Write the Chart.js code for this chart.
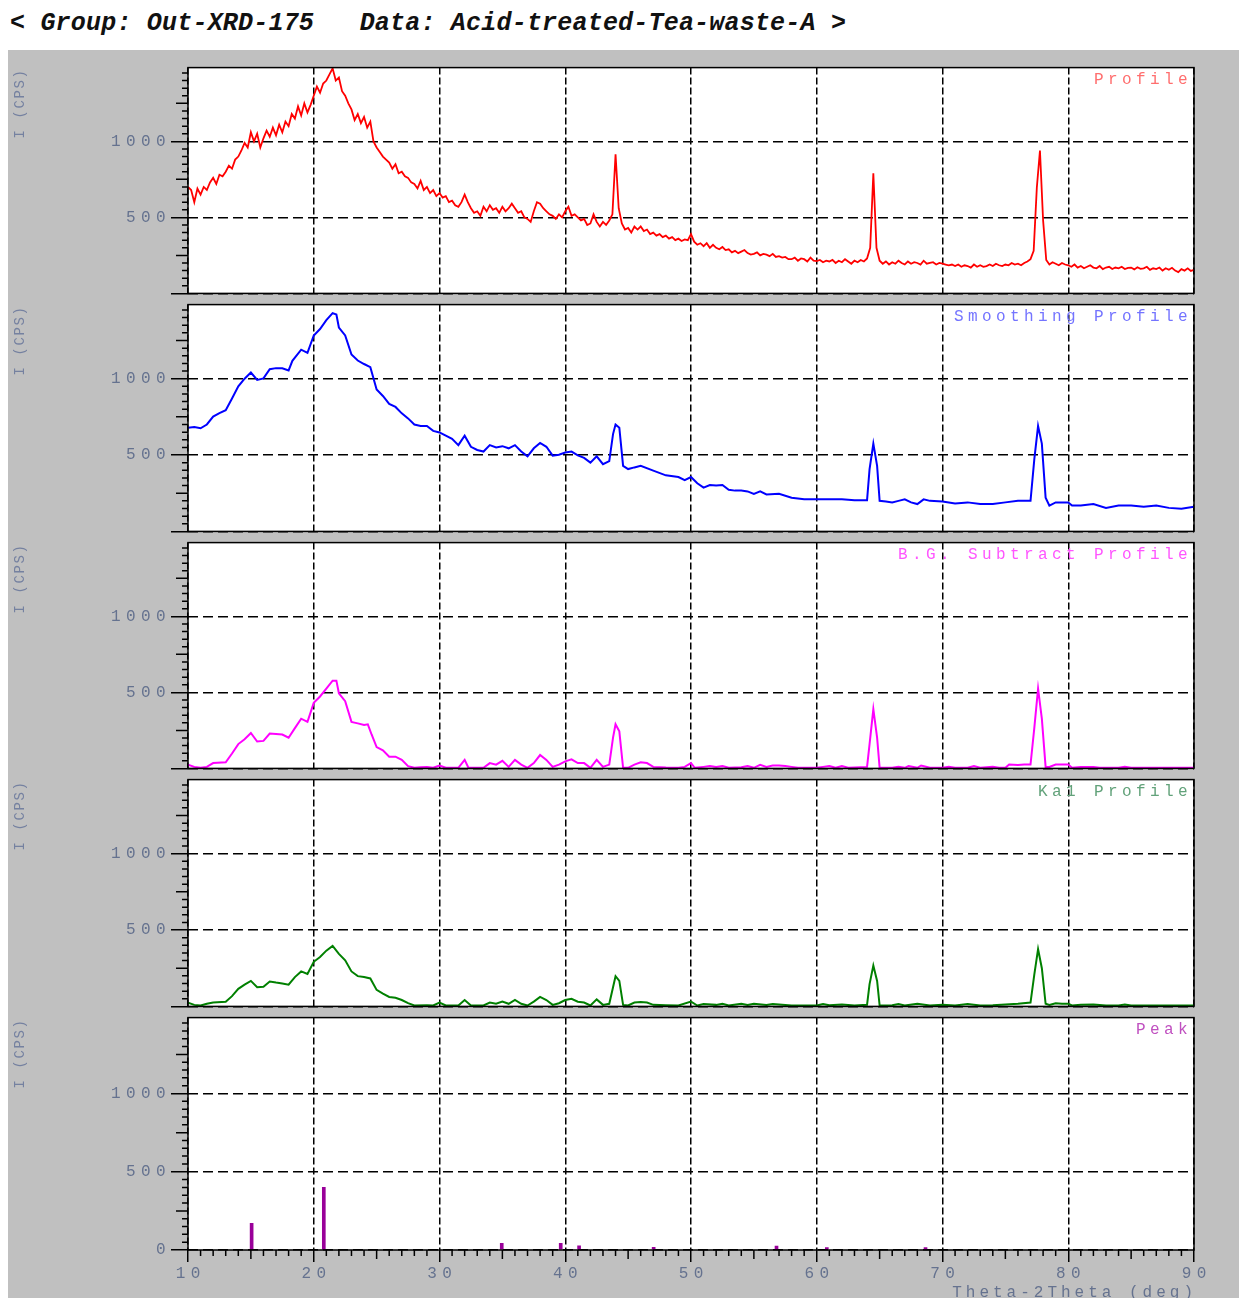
<!DOCTYPE html>
<html>
<head>
<meta charset="utf-8">
<script src="https://cdn.jsdelivr.net/npm/chart.js@4.4.1/dist/chart.umd.min.js"></script>
<style>
  body { margin: 0; background: #fff; width: 1239px; height: 1298px; overflow: hidden; position: relative; }
  #head { position: absolute; left: 10px; top: 11px; font: italic bold 25px "Liberation Mono", monospace; letter-spacing: 0.2px; line-height: 25px; color: #111; white-space: pre; }
  #back { position: absolute; left: 8px; top: 50px; width: 1231px; height: 1248px; background: #c0c0c0; }
  canvas { position: absolute; left: 0; }
</style>
</head>
<body>
<div id="head">&lt; Group: Out-XRD-175   Data: Acid-treated-Tea-waste-A &gt;</div>
<div id="back"></div>
<script>
// ---- data ----
const xTicks = [10, 20, 30, 40, 50, 60, 70, 80, 90];
const yTicks = [0, 500, 1000];
const panelLabels = ["Profile", "Smoothing Profile", "B.G. Subtract Profile", "Ka1 Profile", "Peak"];

// raw profile, scan 10-90 deg at 0.25 deg
const rawStart = 10;
const rawStep = 0.25;
const rawI = [
  700, 680, 600, 690,  650, 700, 680, 730,  760, 720, 780, 770,  800, 840, 820, 880,  900, 940, 990, 960,
  1060, 1000, 1050, 960,  1020, 1070, 1030, 1090,  1040, 1110, 1060, 1130,  1100, 1180, 1150, 1230,  1170, 1250, 1190, 1240,
  1300, 1360, 1320, 1380,  1400, 1440, 1480, 1400,  1420, 1330, 1300, 1250,  1210, 1140, 1180, 1120,  1160, 1090, 1130, 1000,
  960, 930, 900, 880,  860, 820, 850, 790,  800, 770, 760, 730,  720, 690, 740, 680,  700, 660, 680, 640,
  660, 630, 640, 600,  610, 580, 570, 600,  650, 600, 560, 530,  540, 510, 570, 540,  580, 550, 560, 530,
  570, 540, 560, 590,  560, 530, 540, 500,  490, 470, 540, 600,  590, 560, 540, 520,  510, 490, 520, 500,
  540, 570, 510, 520,  500, 480, 490, 450,  460, 520, 470, 440,  470, 450, 480, 520,  915, 560, 460, 420,
  430, 400, 440, 420,  440, 410, 420, 390,  400, 380, 390, 370,  380, 360, 370, 350,  360, 345, 355, 350,
  390, 340, 320, 330,  310, 330, 300, 320,  300, 290, 305, 285,  290, 270, 280, 265,  275, 285, 265, 255,
  260, 270, 250, 260,  255, 245, 260, 240,  245, 235, 240, 225,  225, 235, 215, 230,  225, 210, 235, 215,
  212, 220, 205, 215,  210, 220, 200, 215,  205, 225, 210, 195,  215, 205, 220, 210,  230, 300, 790, 300,
  215, 195, 210, 190,  205, 195, 215, 200,  190, 210, 195, 205,  200, 190, 215, 195,  200, 205, 190, 200,
  195, 190, 185, 190,  180, 190, 175, 185,  180, 170, 190, 175,  185, 175, 180, 190,  180, 195, 185, 180,
  190, 185, 200, 190,  195, 185, 200, 210,  225, 280, 694, 940,  480, 220, 190, 205,  195, 185, 200, 190,
  185, 175, 190, 170,  180, 165, 175, 185,  170, 165, 180, 160,  170, 175, 160, 170,  165, 175, 160, 168,
  170, 158, 172, 162,  165, 175, 155, 165,  160, 170, 150, 165,  155, 168, 150, 140,  160, 150, 165, 148,
  155
];

const smoothAngle = [
  10, 10.5, 11, 11.5, 12, 12.5, 13, 13.5, 14, 14.5,
  15, 15.5, 16, 16.5, 17, 17.5, 18, 18.3, 19, 19.5,
  20, 20.5, 21, 21.5, 21.8, 22, 22.5, 23, 23.5, 24,
  24.5, 25, 25.5, 26, 26.5, 27, 27.5, 28, 28.5, 29,
  29.5, 30, 30.5, 31, 31.5, 32, 32.5, 33, 33.5, 34,
  34.5, 35, 35.5, 36, 36.5, 37, 37.5, 38, 38.5, 39,
  39.5, 40, 40.5, 41, 41.5, 42, 42.5, 43, 43.5, 43.8,
  44, 44.3, 44.6, 45, 45.5, 46, 47, 48, 49, 49.5,
  50, 50.5, 51, 51.5, 52, 52.5, 53, 53.5, 54, 54.5,
  55, 55.5, 56, 57, 58, 59, 60, 61, 62, 63,
  64, 64.2, 64.5, 64.8, 65, 65.5, 66, 66.5, 67, 67.5,
  68, 68.5, 69, 70, 71, 72, 73, 74, 75, 76,
  77, 77.3, 77.6, 77.9, 78.2, 78.5, 79, 80, 80.3, 81,
  82, 83, 84, 85, 86, 87, 88, 89, 90
];
const smoothI = [
  679, 683, 675, 700, 752, 775, 794, 870, 950, 1000,
  1040, 992, 1002, 1062, 1069, 1068, 1054, 1117, 1190, 1169,
  1283, 1325, 1383, 1429, 1420, 1335, 1283, 1158, 1119, 1096,
  1075, 929, 887, 835, 815, 773, 740, 700, 690, 690,
  658, 648, 627, 606, 565, 627, 554, 533, 523, 565,
  550, 558, 544, 565, 523, 492, 544, 579, 554, 496,
  502, 517, 523, 498, 481, 450, 492, 440, 460, 637,
  700, 679, 429, 408, 419, 429, 398, 367, 356, 335,
  356, 315, 287, 304, 300, 304, 273, 267, 267, 262,
  246, 262, 242, 246, 221, 210, 210, 210, 210, 204,
  204, 408, 575, 429, 200, 196, 190, 200, 210, 190,
  179, 210, 200, 196, 183, 190, 179, 179, 190, 200,
  200, 471, 690, 575, 221, 169, 190, 190, 169, 169,
  179, 154, 169, 169, 162, 169, 154, 148, 162
];

const bgAngle = [
  10, 10.5, 11, 11.5, 12, 13, 13.5, 14, 14.5, 15,
  15.5, 16, 16.5, 17, 17.5, 18, 18.5, 19, 19.5, 20,
  20.5, 21, 21.5, 21.8, 22, 22.5, 23, 23.5, 24, 24.3,
  24.6, 25, 25.5, 26, 26.5, 27, 27.5, 28, 28.5, 29,
  29.5, 30, 30.5, 31.5, 32, 32.3, 33.5, 34, 34.5, 35,
  35.5, 36, 36.5, 37, 37.5, 38, 38.5, 39, 39.5, 40,
  40.5, 41, 41.5, 42, 42.5, 43, 43.5, 43.8, 44, 44.3,
  44.6, 45, 45.5, 46, 46.5, 47, 48, 49, 49.5, 50,
  50.3, 51, 51.5, 52, 52.5, 53, 54, 54.5, 55, 55.5,
  56, 56.5, 57, 57.5, 58, 58.5, 60, 60.5, 61, 61.5,
  62, 62.5, 64, 64.2, 64.5, 64.8, 65, 66, 66.5, 67,
  67.3, 68, 68.3, 69, 70, 70.5, 71, 72, 72.5, 73,
  74, 74.5, 75, 75.3, 76, 76.5, 77, 77.3, 77.6, 77.9,
  78.2, 78.5, 79, 79.5, 80, 80.3, 81, 81.5, 82, 82.5,
  84, 84.5, 85, 90
];
const bgI = [
  25, 10, 4, 10, 35, 40, 98, 160, 192, 233,
  177, 181, 229, 227, 223, 202, 265, 327, 306, 431,
  473, 525, 577, 577, 494, 442, 306, 296, 285, 290,
  223, 140, 119, 77, 77, 56, 15, 4, 8, 10,
  4, 19, 4, 4, 56, 4, 4, 35, 25, 50,
  10, 56, 25, 4, 35, 88, 56, 10, 25, 46,
  60, 35, 35, 4, 56, 10, 25, 202, 290, 244,
  4, 4, 25, 40, 35, 10, 6, 4, 10, 35,
  4, 10, 15, 10, 15, 4, 8, 15, 4, 23,
  10, 19, 19, 15, 10, 4, 4, 10, 15, 4,
  15, 4, 10, 160, 390, 202, 4, 4, 10, 4,
  15, 4, 19, 4, 4, 10, 4, 4, 15, 4,
  10, 4, 4, 25, 23, 25, 25, 265, 525, 327,
  10, 10, 25, 25, 25, 4, 10, 10, 10, 4,
  4, 10, 4, 4
];

const kaAngle = [
  10, 10.5, 11, 11.5, 12, 13, 13.5, 14, 14.5, 15,
  15.5, 16, 16.5, 17, 17.5, 18, 18.5, 19, 19.5, 20,
  20.5, 21, 21.5, 22, 22.5, 23, 23.5, 24, 24.5, 25,
  25.5, 26, 26.5, 27, 27.5, 28, 29, 29.5, 30, 30.5,
  31.5, 32, 32.5, 33.5, 34, 34.5, 35, 35.5, 36, 36.5,
  37, 37.5, 38, 38.5, 39, 39.5, 40, 40.5, 41, 41.5,
  42, 42.5, 43, 43.5, 43.8, 44, 44.3, 44.6, 45, 45.5,
  46, 46.5, 47, 48, 49, 50, 50.5, 51, 52, 52.5,
  53, 54, 54.5, 55, 56, 56.5, 57, 58, 60, 60.5,
  61, 62, 63, 64, 64.2, 64.5, 64.8, 65, 66, 66.5,
  67, 68, 69, 70, 71, 72, 73, 74, 75, 76,
  77, 77.3, 77.6, 77.9, 78.2, 78.5, 79, 79.5, 80, 80.3,
  81, 82, 83, 84, 84.5, 85, 90
];
const kaI = [
  25, 10, 6, 17, 25, 31, 67, 115, 142, 167,
  125, 129, 163, 156, 150, 142, 192, 229, 213, 292,
  323, 365, 396, 344, 302, 229, 198, 192, 183, 108,
  83, 62, 56, 42, 21, 6, 8, 6, 25, 6,
  6, 42, 6, 6, 25, 17, 31, 17, 42, 17,
  6, 31, 62, 42, 10, 21, 42, 50, 31, 25,
  6, 46, 10, 17, 125, 198, 167, 10, 6, 25,
  29, 25, 10, 8, 6, 31, 6, 15, 10, 17,
  6, 17, 10, 17, 10, 15, 12, 6, 6, 15,
  8, 12, 6, 10, 146, 267, 167, 6, 8, 15,
  6, 17, 6, 10, 6, 15, 6, 8, 12, 17,
  25, 208, 375, 250, 17, 10, 21, 17, 17, 6,
  10, 12, 6, 6, 12, 6, 6
];

const peakAngle = [15.06, 20.8, 34.95, 39.64, 41.1, 47.03, 56.8, 60.8, 68.65];
const peakI = [171, 400, 42, 42, 27, 17, 25, 15, 15];

// ---- layout ----
const panelTop = [62, 299, 537, 774, 1012];
const panelBottom = [299, 537, 774, 1012, 1250];
const textColor = "#65728f";
const monoFont = "Liberation Mono";

const pts = (xs, ys) => xs.map((x, i) => ({ x: x, y: ys[i] }));
const rawPts = rawI.map((y, i) => ({ x: rawStart + i * rawStep, y: y }));

// frame, minor ticks and labels of one panel
const xrdPanel = {
  id: "xrdPanel",
  beforeDraw(chart) {
    const { ctx, chartArea: a } = chart;
    ctx.save();
    ctx.fillStyle = "#fff";
    ctx.fillRect(a.left, a.top, a.right - a.left, a.bottom - a.top);
    ctx.restore();
    ctx.letterSpacing = "5.4px"; // wide tick labels
  },
  afterDraw(chart, args, o) {
    const { ctx, chartArea: a, scales } = chart;
    const x = scales.x, y = scales.y;
    ctx.save();
    ctx.strokeStyle = "#000";
    ctx.lineWidth = 1.5;
    ctx.beginPath();
    for (let v = 50; v < y.max; v += 50) {
      if (v % 500 === 0) continue;
      const len = v % 250 === 0 ? 12 : 6;
      const py = y.getPixelForValue(v);
      ctx.moveTo(a.left - len, py);
      ctx.lineTo(a.left, py);
    }
    if (o.last) {
      for (let v = 11; v < 90; v++) {
        if (v % 10 === 0) continue;
        const len = v % 5 === 0 ? 9 : 6;
        const px = x.getPixelForValue(v);
        ctx.moveTo(px, a.bottom);
        ctx.lineTo(px, a.bottom + len);
      }
    }
    ctx.stroke();
    ctx.strokeRect(a.left, a.top, a.right - a.left, a.bottom - a.top);

    // panel title, top right
    ctx.letterSpacing = "4.4px";
    ctx.font = "16px '" + monoFont + "'";
    ctx.fillStyle = o.color;
    ctx.textAlign = "right";
    ctx.textBaseline = "middle";
    ctx.fillText(o.label, a.right - 2, a.top + 12);

    // axis title
    if (o.last) {
      ctx.letterSpacing = "4px";
      ctx.fillStyle = textColor;
      ctx.textBaseline = "top";
      ctx.fillText("Theta-2Theta (deg)", 1197, a.bottom + 35);
    }

    // I (CPS), rotated
    ctx.translate(20, a.top + 1);
    ctx.rotate(-Math.PI / 2);
    ctx.letterSpacing = "1.6px";
    ctx.font = "14px '" + monoFont + "'";
    ctx.fillStyle = "#7581a0";
    ctx.textAlign = "right";
    ctx.textBaseline = "middle";
    ctx.fillText("I (CPS)", 0, 0);
    ctx.restore();
  }
};

function makePanel(i, datasets, color) {
  const last = i === 4;
  const top = panelTop[i] - 4;
  const h = last ? 1298 - top : panelBottom[i] - panelTop[i] + 8;
  const cv = document.createElement("canvas");
  cv.width = 1239;
  cv.height = h;
  cv.style.top = top + "px";
  document.body.appendChild(cv);

  new Chart(cv.getContext("2d"), {
    type: last ? "bar" : "line",
    data: { datasets: datasets },
    options: {
      responsive: false,
      animation: false,
      layout: { padding: { left: 88, right: 45, top: 4, bottom: last ? 0 : 4 } },
      plugins: {
        legend: { display: false },
        tooltip: { enabled: false },
        xrdPanel: { label: panelLabels[i], color: color, last: last }
      },
      scales: {
        x: {
          type: "linear",
          min: 10,
          max: 90,
          offset: false,
          afterBuildTicks: (s) => { s.ticks = xTicks.map((v) => ({ value: v })); },
          afterFit: (s) => { s.height = last ? 48 : 0; },
          ticks: {
            display: last,
            padding: 2,
            labelOffset: 2.7,
            maxRotation: 0,
            autoSkip: false,
            color: textColor,
            font: { family: monoFont, size: 16 }
          },
          grid: { offset: false, color: "#000", lineWidth: 1.5, drawTicks: last, tickLength: 12 },
          border: { display: false, dash: [7, 3] }
        },
        y: {
          min: 0,
          max: 1485,
          afterBuildTicks: (s) => { s.ticks = yTicks.map((v) => ({ value: v })); },
          afterFit: (s) => { s.width = 100; },
          ticks: {
            padding: 0,
            color: textColor,
            font: { family: monoFont, size: 16 },
            callback: (v) => (v === 0 && !last ? "" : String(v))
          },
          grid: { color: "#000", lineWidth: 1.5, tickLength: 17 },
          border: { display: false, dash: [10, 5] }
        }
      }
    },
    plugins: [xrdPanel]
  });
}

const lineStyle = { pointRadius: 0, tension: 0, fill: false };

makePanel(0, [Object.assign({ data: rawPts, borderColor: "#ff0000", borderWidth: 1.8 }, lineStyle)], "#ff6e6e");
makePanel(1, [Object.assign({ data: pts(smoothAngle, smoothI), borderColor: "#0000ff", borderWidth: 2 }, lineStyle)], "#7474ff");
makePanel(2, [Object.assign({ data: pts(bgAngle, bgI), borderColor: "#ff00ff", borderWidth: 2 }, lineStyle)], "#ff55ff");
makePanel(3, [Object.assign({ data: pts(kaAngle, kaI), borderColor: "#008000", borderWidth: 2 }, lineStyle)], "#62a27a");
makePanel(4, [{
  data: pts(peakAngle, peakI),
  backgroundColor: "#990099",
  barThickness: 3,
  grouped: false
}], "#c050c0");
</script>
</body>
</html>
